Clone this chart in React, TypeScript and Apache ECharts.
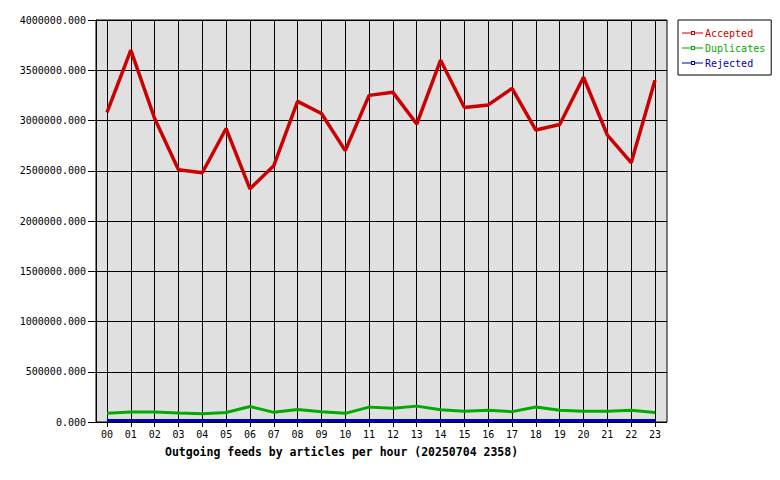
import React, { useEffect, useRef } from "react";
import * as echarts from "echarts";

const hours = ["00","01","02","03","04","05","06","07","08","09","10","11","12","13","14","15","16","17","18","19","20","21","22","23"];
const accepted = [3080000,3700000,3020000,2510000,2480000,2920000,2320000,2550000,3190000,3070000,2700000,3250000,3280000,2965000,3600000,3130000,3155000,3320000,2905000,2960000,3430000,2855000,2580000,3400000];
const duplicates = [88000,100000,100000,90000,82000,95000,155000,96000,125000,103000,86000,148000,138000,158000,122000,106000,118000,103000,150000,118000,108000,106000,118000,95000];
const rejected = [15000,15000,15000,15000,15000,15000,15000,15000,15000,15000,15000,15000,15000,15000,15000,15000,15000,15000,15000,15000,15000,15000,15000,15000];
const yTicks = { min: 0, max: 4000000, interval: 500000 };
const titleText = "Outgoing feeds by articles per hour (20250704 2358)";

const FONT = "'DejaVu Sans Mono', 'Liberation Mono', monospace";
const RED = "#cc0000";
const GREEN = "#00aa00";
const BLUE = "#0000c0";
const LEGEND_ICON = "path://M0,1.5 H9 V0 H13 V1.5 H21 V2.5 H13 V4 H9 V2.5 H0 Z M10,1 V3 H12 V1 Z";

export default function App() {
  const ref = useRef<HTMLDivElement>(null);
  useEffect(() => {
    document.body.style.margin = "0";
    const chart = echarts.init(ref.current!, null, { renderer: "svg" });
    chart.setOption({
      animation: false,
      backgroundColor: "#ffffff",
      title: {
        text: titleText,
        left: 165,
        top: 446,
        padding: 0,
        textStyle: { fontFamily: FONT, fontSize: 11.5, fontWeight: "bold", color: "#000" },
      },
      legend: {
        orient: "vertical",
        left: 678,
        top: 20,
        padding: [8, 6, 7, 4],
        itemGap: 5,
        itemWidth: 21,
        itemHeight: 4,
        backgroundColor: "#ffffff",
        borderColor: "#000",
        borderWidth: 1,
        borderRadius: 0,
        icon: LEGEND_ICON,
        textStyle: { fontFamily: FONT, fontSize: 10, lineHeight: 10, padding: [0, 0, 0, -3] },
        data: [
          { name: "Accepted", textStyle: { color: RED } },
          { name: "Duplicates", textStyle: { color: GREEN } },
          { name: "Rejected", textStyle: { color: BLUE } },
        ],
      },
      grid: [
        { left: 107, right: 125, top: 20, bottom: 58, show: false },
        { left: 96, right: 113, top: 20, bottom: 58, show: true, backgroundColor: "#e0e0e0", borderColor: "#000", borderWidth: 1, z: -1 },
      ],
      xAxis: [
        {
          gridIndex: 0,
          type: "category",
          data: hours,
          boundaryGap: false,
          axisLine: { show: false },
          axisTick: { show: true, length: 5, lineStyle: { color: "#000" }, interval: 0 },
          axisLabel: { margin: 7, interval: 0, fontFamily: FONT, fontSize: 10, color: "#000" },
          splitLine: { show: true, interval: 0, lineStyle: { color: "#000", width: 1 } },
        },
        { gridIndex: 1, type: "value", show: false, min: 0, max: 1 },
      ],
      yAxis: [
        { gridIndex: 0, type: "value", show: false, ...yTicks },
        {
          gridIndex: 1,
          type: "value",
          ...yTicks,
          axisLine: { show: true, lineStyle: { color: "#000" } },
          axisTick: { show: true, length: 8, lineStyle: { color: "#000" } },
          axisLabel: {
            margin: 10,
            fontFamily: FONT,
            fontSize: 10,
            color: "#000",
            formatter: (v: number) => v.toFixed(3),
          },
          splitLine: { show: true, lineStyle: { color: "#000", width: 1 } },
        },
      ],
      series: [
        {
          name: "Accepted", type: "line", xAxisIndex: 0, yAxisIndex: 0, data: accepted,
          showSymbol: false, symbol: "none",
          lineStyle: { color: RED, width: 3.5 }, itemStyle: { color: RED }, z: 4,
        },
        {
          name: "Duplicates", type: "line", xAxisIndex: 0, yAxisIndex: 0, data: duplicates,
          showSymbol: false, symbol: "none",
          lineStyle: { color: GREEN, width: 3 }, itemStyle: { color: GREEN }, z: 3,
        },
        {
          name: "Rejected", type: "line", xAxisIndex: 0, yAxisIndex: 0, data: rejected,
          showSymbol: false, symbol: "none",
          lineStyle: { color: BLUE, width: 3 }, itemStyle: { color: BLUE }, z: 3,
        },
      ],
    });
    return () => chart.dispose();
  }, []);
  return <div ref={ref} style={{ width: 780, height: 480 }} />;
}
